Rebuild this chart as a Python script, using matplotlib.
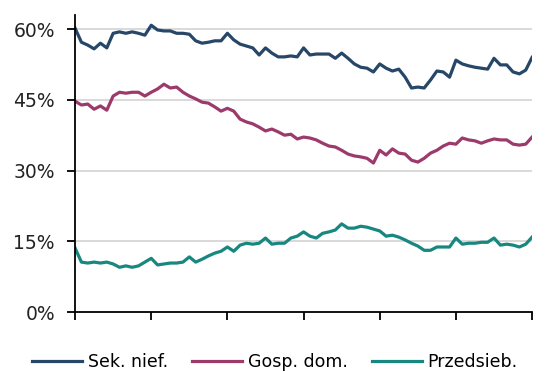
import matplotlib.pyplot as plt
import numpy as np

# monthly shares, %
sek_nief = [60.2, 57.2, 56.6, 55.8, 57.0, 56.0, 59.1, 59.4, 59.1, 59.4, 59.1, 58.7,
            60.8, 59.8, 59.6, 59.6, 59.1, 59.1, 58.9, 57.5, 57.0, 57.2, 57.5, 57.5,
            59.1, 57.7, 56.8, 56.4, 56.0, 54.5, 56.0, 54.9, 54.1, 54.1, 54.3, 54.1,
            56.0, 54.5, 54.7, 54.7, 54.7, 53.8, 54.9, 53.8, 52.6, 51.9, 51.7, 50.9,
            52.6, 51.7, 51.1, 51.5, 49.8, 47.5, 47.7, 47.5, 49.2, 51.1, 50.9, 49.8,
            53.4, 52.6, 52.2, 51.9, 51.7, 51.5, 53.8, 52.4, 52.4, 50.9, 50.5, 51.3,
            54.0]
gosp_dom = [44.7, 43.9, 44.1, 43.0, 43.7, 42.8, 45.8, 46.6, 46.4, 46.6, 46.6, 45.8,
            46.6, 47.3, 48.3, 47.5, 47.7, 46.6, 45.8, 45.2, 44.5, 44.3, 43.5, 42.6,
            43.2, 42.6, 40.9, 40.3, 39.9, 39.2, 38.4, 38.8, 38.2, 37.5, 37.7, 36.7,
            37.1, 36.9, 36.5, 35.8, 35.2, 35.0, 34.3, 33.5, 33.1, 32.9, 32.6, 31.6,
            34.3, 33.3, 34.6, 33.7, 33.5, 32.2, 31.8, 32.6, 33.7, 34.3, 35.2, 35.8,
            35.6, 36.9, 36.5, 36.3, 35.8, 36.3, 36.7, 36.5, 36.5, 35.6, 35.4, 35.6,
            37.1]
przedsieb = [13.6, 10.6, 10.4, 10.6, 10.4, 10.6, 10.2, 9.5, 9.8, 9.5, 9.8, 10.6,
             11.4, 10.0, 10.2, 10.4, 10.4, 10.6, 11.7, 10.6, 11.2, 11.9, 12.5, 12.9,
             13.8, 12.9, 14.2, 14.6, 14.4, 14.6, 15.7, 14.4, 14.6, 14.6, 15.7, 16.1,
             17.0, 16.1, 15.7, 16.7, 17.0, 17.4, 18.7, 17.8, 17.8, 18.2, 18.0, 17.6,
             17.2, 16.1, 16.3, 15.9, 15.3, 14.6, 14.0, 13.1, 13.1, 13.8, 13.8, 13.8,
             15.7, 14.4, 14.6, 14.6, 14.8, 14.8, 15.7, 14.2, 14.4, 14.2, 13.8, 14.4,
             15.9]
labels = ['Sek. nief.', 'Gosp. dom.', 'Przedsieb.']
colors = ['#274769', '#9c3a6b', '#178780']
yticks = [0, 15, 30, 45, 60]

plt.rcParams['font.family'] = 'DejaVu Sans'
fig = plt.figure(figsize=(5.56, 3.72), dpi=100)
ax = fig.add_axes([0.135, 0.161, 0.822, 0.799])

months = np.arange(len(sek_nief))
for vals, lab, c in zip([sek_nief, gosp_dom, przedsieb], labels, colors):
    ax.plot(months, vals, color=c, lw=2.3, label=lab, solid_joinstyle='round')

ax.set_xlim(0, len(months) - 1)
ax.set_ylim(0, 63)
ax.set_xticks(np.arange(0, len(months), 12))
ax.set_xticklabels([])
ax.set_yticks(yticks)
ax.set_yticklabels([f'{v}%' for v in yticks], fontsize=13.5, color='#222222')

for v in yticks[1:]:
    ax.axhline(v, color='#d9d9d9', lw=1.4, zorder=0)

for s in ['top', 'right']:
    ax.spines[s].set_visible(False)
for s in ['left', 'bottom']:
    ax.spines[s].set_linewidth(1.3)
    ax.spines[s].set_color('black')
ax.tick_params(axis='both', direction='out', length=6, width=1.3, color='black')
ax.tick_params(axis='y', pad=8.5)

fig.legend(loc='center', bbox_to_anchor=(0.494, 0.028), ncol=3, frameon=False,
           fontsize=12.5, handlelength=2.9, handletextpad=0.3, columnspacing=1.4,
           borderaxespad=0, borderpad=0)

plt.savefig('out.png', dpi=100)
